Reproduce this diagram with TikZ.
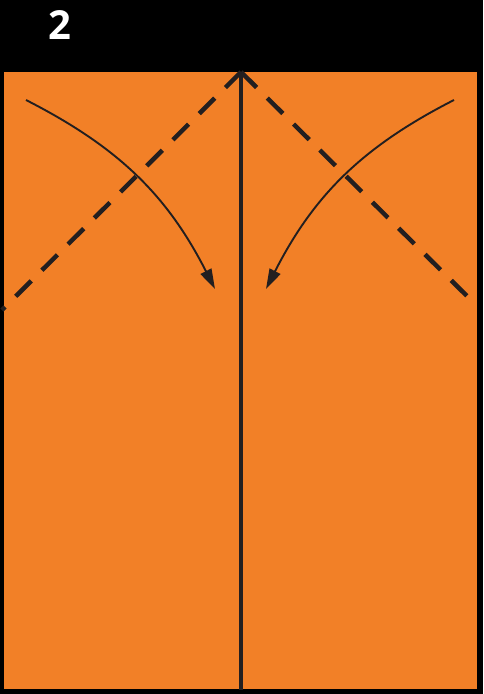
\documentclass[tikz,border=0pt]{standalone}
\usepackage{fontspec}
\setmainfont{Open Sans}
\usetikzlibrary{arrows.meta}
\definecolor{paperorange}{RGB}{242,128,39}
\definecolor{foldgray}{RGB}{35,31,32}

\begin{document}
\begin{tikzpicture}[x=1pt,y=-1pt]
		\fill[black] (0,0) rectangle (483,694);
		\useasboundingbox (0,0) rectangle (483,694);
		\fill[paperorange] (4,72) rectangle (477,689);
		
		\node[text=white, font=\fontsize{40}{40}\selectfont\bfseries, inner sep=0] (step) at (60,25) {2};
		
		\coordinate (top) at (241,72);
		\coordinate (bot) at (241,690);
		\coordinate (dl) at (2,310);
		\coordinate (dr) at (470,299);
		
		\draw[-, color=foldgray, line width=4pt] (top) -- (bot);
		\draw[-, color=foldgray, line width=4.5pt, dash pattern=on 22pt off 15pt] (top) -- (dl);
		\draw[-, color=foldgray, line width=4.5pt, dash pattern=on 22pt off 15pt] (top) -- (dr);
		
		\coordinate (la) at (26,100);
		\coordinate (lb) at (215,289);
		\coordinate (ra) at (454,100);
		\coordinate (rb) at (266,289);
		
		\draw[-{Triangle[length=20pt,width=12pt]}, color=foldgray, line width=1.9pt] (la) to[out=-27, in=117] (lb);
		\draw[-{Triangle[length=20pt,width=12pt]}, color=foldgray, line width=1.9pt] (ra) to[out=207, in=63] (rb);
\end{tikzpicture}
\end{document}
